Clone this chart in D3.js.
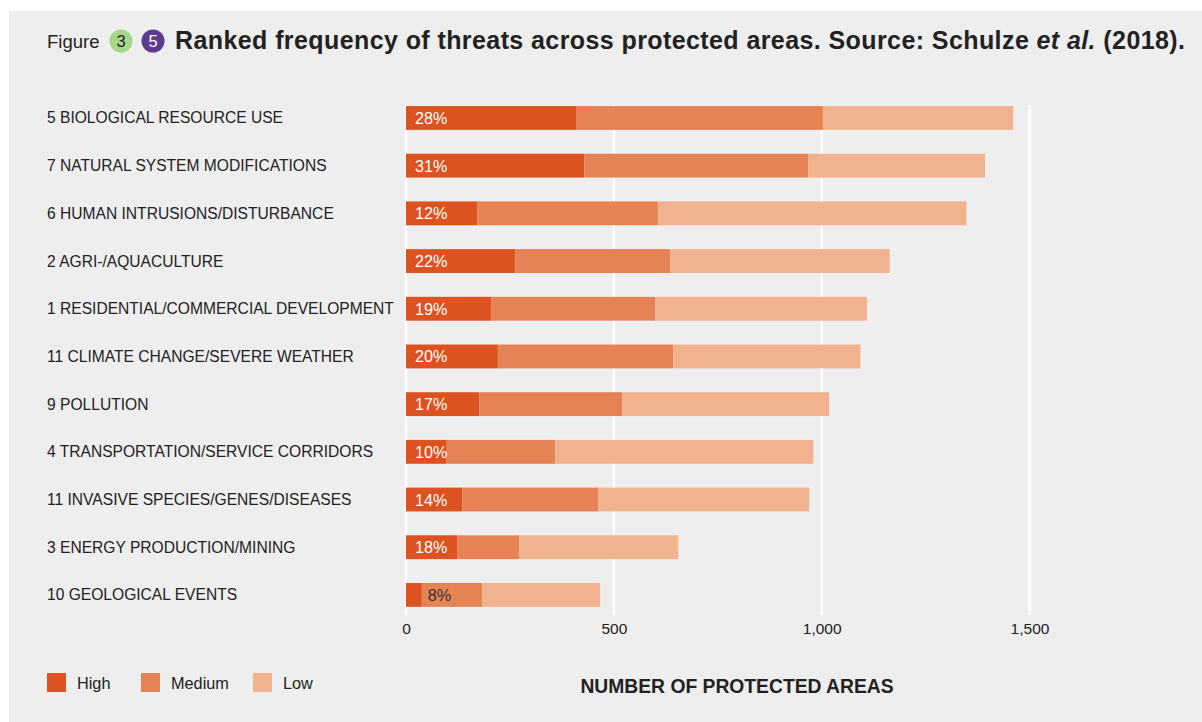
<!DOCTYPE html>
<html><head><meta charset="utf-8">
<script src="https://cdn.jsdelivr.net/npm/d3@7"></script>
<style>
html,body{margin:0;padding:0;background:#fff;}
svg{display:block;font-family:"Liberation Sans",Arial,Helvetica,sans-serif;}
</style></head>
<body>
<script>
const categories = [
  "5 BIOLOGICAL RESOURCE USE",
  "7 NATURAL SYSTEM MODIFICATIONS",
  "6 HUMAN INTRUSIONS/DISTURBANCE",
  "2 AGRI-/AQUACULTURE",
  "1 RESIDENTIAL/COMMERCIAL DEVELOPMENT",
  "11 CLIMATE CHANGE/SEVERE WEATHER",
  "9 POLLUTION",
  "4 TRANSPORTATION/SERVICE CORRIDORS",
  "11 INVASIVE SPECIES/GENES/DISEASES",
  "3 ENERGY PRODUCTION/MINING",
  "10 GEOLOGICAL EVENTS"
];
const highValues   = [409, 429, 171, 263, 206, 221, 176, 98, 135, 123, 38];
const mediumValues = [594, 539, 435, 372, 394, 422, 344, 261, 327, 149, 145];
const lowValues    = [458, 425, 742, 529, 509, 450, 498, 621, 508, 383, 284];
const pctLabels    = ["28%","31%","12%","22%","19%","20%","17%","10%","14%","18%","8%"];
const seriesNames  = ["High","Medium","Low"];
const seriesColors = ["#dc5220","#e58355","#f1b28f"];
const xTicks       = [0, 500, 1000, 1500];

const W = 1202, H = 722;
const svg = d3.select("body").append("svg").attr("width", W).attr("height", H);

svg.append("rect").attr("x", 9).attr("y", 11).attr("width", W - 9).attr("height", H - 11).attr("fill", "#eeeeee");

// Title
const tg = svg.append("g");
tg.append("text").attr("x", 47).attr("y", 48).attr("font-size", 18.5).attr("fill", "#222").text("Figure");
tg.append("circle").attr("cx", 121).attr("cy", 41).attr("r", 11.5).attr("fill", "#a6d68a");
tg.append("text").attr("x", 121).attr("y", 47).attr("text-anchor", "middle").attr("font-size", 16.5).attr("fill", "#222").text("3");
tg.append("circle").attr("cx", 153).attr("cy", 41).attr("r", 11.5).attr("fill", "#5b3a8f");
tg.append("text").attr("x", 153).attr("y", 47).attr("text-anchor", "middle").attr("font-size", 16.5).attr("fill", "#fff").text("5");
const title = tg.append("text").attr("x", 175).attr("y", 49).attr("font-size", 25).attr("font-weight", "bold")
  .attr("fill", "#222").attr("textLength", 1010).attr("lengthAdjust", "spacing");
title.append("tspan").text("Ranked frequency of threats across protected areas. Source: Schulze ");
title.append("tspan").attr("font-style", "italic").text("et al.");
title.append("tspan").text(" (2018).");

// Scales
const x = d3.scaleLinear().domain([0, 1500]).range([406, 1029.5]);
const y = d3.scaleBand().domain(categories).range([82.2, 630.7]).paddingInner(0.5).paddingOuter(0.5);

// Grid
svg.append("g").selectAll("line").data(xTicks).join("line")
  .attr("x1", d => x(d)).attr("x2", d => x(d))
  .attr("y1", 105).attr("y2", 615)
  .attr("stroke", "#ffffff").attr("stroke-width", 2.5);

// Axis labels
const xAxis = d3.axisBottom(x).tickValues(xTicks).tickFormat(d3.format(",")).tickSize(0).tickPadding(0);
const ax = svg.append("g").attr("transform", "translate(0,623)").call(xAxis);
ax.select(".domain").remove();
ax.selectAll("text").attr("font-size", 15.5).attr("fill", "#222").attr("font-family", "Liberation Sans, Arial, sans-serif");

// Stacked data
const rows = categories.map((c, i) => ({cat: c, High: highValues[i], Medium: mediumValues[i], Low: lowValues[i], pct: pctLabels[i]}));
const stack = d3.stack().keys(seriesNames)(rows);
const color = d3.scaleOrdinal().domain(seriesNames).range(seriesColors);

svg.append("g").selectAll("g").data(stack).join("g")
  .attr("fill", d => color(d.key))
  .selectAll("rect").data(d => d).join("rect")
  .attr("x", d => x(d[0]))
  .attr("y", d => y(d.data.cat))
  .attr("width", d => x(d[1]) - x(d[0]))
  .attr("height", y.bandwidth());

// Category labels
svg.append("g").selectAll("text").data(categories).join("text")
  .attr("x", 47).attr("y", d => y(d) + y.bandwidth() / 2 + 5.5)
  .attr("font-size", 15.6).attr("fill", "#222").text(d => d);

// Percent labels
svg.append("g").selectAll("text").data(rows).join("text")
  .attr("x", d => {
    const w = x(d.High) - x(0);
    return w < 30 ? x(d.High) + 6 : x(0) + 9;
  })
  .attr("y", d => y(d.cat) + y.bandwidth() / 2 + 6)
  .attr("font-size", 16.2)
  .attr("fill", d => (x(d.High) - x(0) < 30) ? "#333" : "#fff")
  .text(d => d.pct);

// Legend
const lg = svg.append("g");
seriesNames.forEach((s, i) => {
  const lx = [47, 141, 253][i];
  lg.append("rect").attr("x", lx).attr("y", 673).attr("width", 19).attr("height", 19).attr("fill", seriesColors[i]);
  lg.append("text").attr("x", lx + 30).attr("y", 689).attr("font-size", 16.3).attr("fill", "#222").text(s);
});

// Axis title
svg.append("text").attr("x", 737).attr("y", 693).attr("text-anchor", "middle")
  .attr("font-size", 19.3).attr("font-weight", "bold").attr("fill", "#222").text("NUMBER OF PROTECTED AREAS");
</script>
</body></html>
